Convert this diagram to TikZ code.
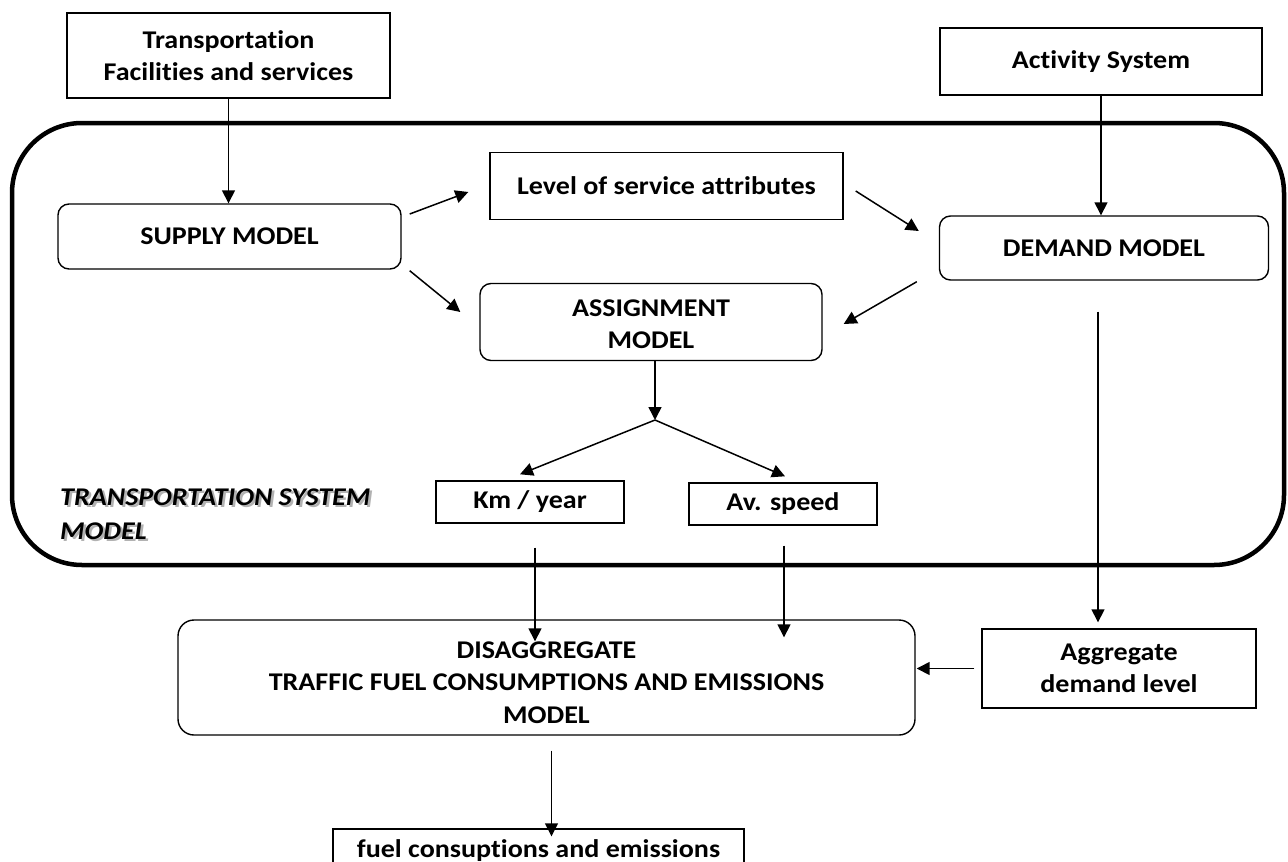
\documentclass[tikz,border=0pt]{standalone}
\usepackage{fontspec}
\setmainfont{Carlito}[FakeStretch=1.1, Ligatures=NoCommon]
\usetikzlibrary{arrows.meta,calc}
\begin{document}
\begin{tikzpicture}[x=1pt,y=-1pt,
  txt/.style={font=\fontsize{25.5}{32.5}\selectfont\bfseries, align=center, inner sep=0pt},
  sqbox/.style={txt, draw, line width=1.4pt, rectangle},
  rbox/.style={txt, draw, line width=1.4pt, rounded corners=11pt},
  arr/.style={line width=1.5pt, -{Triangle[length=13pt,width=13pt]}},
  frame/.style={draw, line width=4.5pt, rounded corners=70pt},
  labeltxt/.style={font=\fontsize{25.5}{34}\selectfont\bfseries\itshape, align=left, inner sep=0pt, anchor=west}
]
\useasboundingbox (0,0) rectangle (1288,862);

% frame of the transportation system model
\draw[frame] (12,123) rectangle (1284,565);

% nodes
\node[sqbox, minimum width=323pt, minimum height=85pt] (tfs) at (228.5,55.5) {Transportation\\Facilities and services};
\node[sqbox, minimum width=322pt, minimum height=67pt] (act) at (1101,61.5) {Activity System};
\node[rbox, minimum width=343pt, minimum height=65pt] (sup) at (229.5,236.5) {SUPPLY MODEL};
\node[sqbox, minimum width=353pt, minimum height=67pt] (los) at (666.5,186) {Level of service attributes};
\node[rbox, minimum width=342pt, minimum height=77pt] (asg) at (651,322) {\raisebox{-10pt}[0pt][0pt]{\begin{tabular}{@{}c@{}}ASSIGNMENT\\MODEL\end{tabular}}};
\node[rbox, minimum width=329pt, minimum height=64pt] (dem) at (1104,248) {DEMAND MODEL};
\node[sqbox, minimum width=188pt, minimum height=42pt] (km) at (530,502) {Km / year};
\node[sqbox, minimum width=188pt, minimum height=42pt] (avs) at (783,504) {Av. speed};
\node[rbox, minimum width=737pt, minimum height=115pt, rounded corners=16pt] (dis) at (546.5,677.5) {\raisebox{-13pt}[0pt][0pt]{\begin{tabular}{@{}c@{}}DISAGGREGATE\\TRAFFIC FUEL CONSUMPTIONS AND EMISSIONS\\MODEL\end{tabular}}};
\node[sqbox, minimum width=274pt, minimum height=79pt] (agg) at (1119,668.5) {Aggregate\\demand level};
\node[sqbox, minimum width=411pt, minimum height=43pt] (fuel) at (538.5,850.5) {fuel consuptions and emissions};

% shadowed italic label
\node[labeltxt, text=black!30] (tsmshadow) at (62.5,516.5) {TRANSPORTATION SYSTEM\\MODEL};
\node[labeltxt] (tsm) at (60,514) {TRANSPORTATION SYSTEM\\MODEL};

% junction below assignment model
\coordinate (j) at (655,420);

% connectors
\draw[arr] (tfs.south) -- (tfs.south |- sup.north);
\draw[arr] (act.south) -- (act.south |- dem.north);
\draw[arr] ([shift={(8,-22.5)}]sup.east) -- ([shift={(-21,6)}]los.west);
\draw[arr] ([shift={(8,1)}]sup.south east) -- ([shift={(-19,-10)}]asg.west);
\draw[arr] ([shift={(12,5)}]los.east) -- ([shift={(-20,-17)}]dem.west);
\draw[arr] ([shift={(-22,1)}]dem.south west) -- ([shift={(21,2)}]asg.east);
\draw[arr] (asg.south -| j) -- (j);
\draw[arr] (j) -- ([shift={(-10,-6)}]km.north);
\draw[arr] (j) -- ([shift={(2,-6)}]avs.north);
\draw[arr, shorten >=2pt] ([shift={(5,24)}]km.south) -- ([shift={(5,24)}]km.south |- dis.north);
\draw[arr, shorten >=2pt] ([shift={(1,20)}]avs.south) -- ([shift={(1,20)}]avs.south |- dis.north);
\draw[arr, shorten >=37pt] ([shift={(-6,31)}]dem.south) -- ([shift={(-6,31)}]dem.south |- agg.north);
\draw[arr, shorten >=8pt] ([shift={(-7,0)}]agg.west) -- ([shift={(-7,0)}]agg.west -| dis.east);
\draw[arr, shorten >=7pt] ([shift={(5,15)}]dis.south) -- ([shift={(5,15)}]dis.south |- fuel.north);
\end{tikzpicture}
\end{document}
